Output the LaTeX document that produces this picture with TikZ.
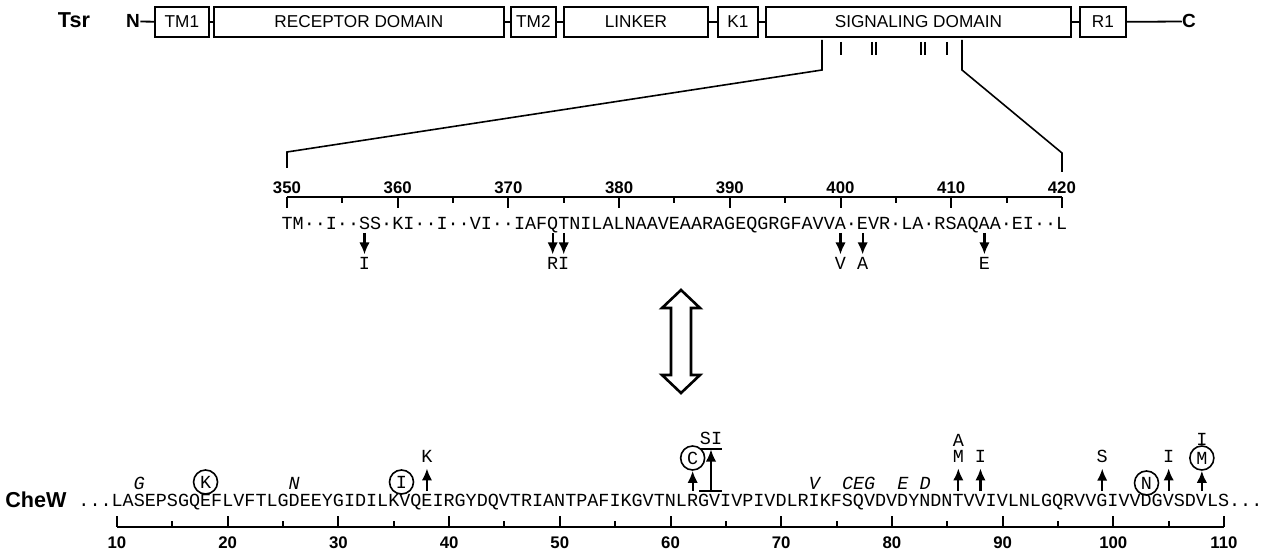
\documentclass[tikz,border=0pt]{standalone}
\usepackage{fontspec}
\setmainfont{Liberation Sans}
\newfontfamily\seqfont{Liberation Mono}
\usetikzlibrary{arrows.meta,positioning}

\begin{document}
\begin{tikzpicture}[x=0.5pt, y=-0.5pt,
  font=\fontsize{8.6}{10}\selectfont,
  dom/.style={draw, line width=0.9pt, minimum height=15pt, inner sep=0pt, anchor=west},
  term/.style={font=\fontsize{9.5}{11}\selectfont\bfseries, inner sep=0pt, anchor=base},
  prot/.style={font=\fontsize{10.8}{12}\selectfont\bfseries, inner sep=0pt, anchor=base},
  num/.style={font=\fontsize{8.4}{10}\selectfont\bfseries, inner sep=0pt, anchor=base},
  seq/.style={font=\seqfont\fontsize{9.22}{11}\selectfont, inner sep=0pt, anchor=base},
  alt/.style={seq, font=\seqfont\itshape\fontsize{9.22}{11}\selectfont},
  ring/.style={circle, draw, line width=0.8pt, minimum size=12pt, inner sep=0pt,
               font=\seqfont\fontsize{9.22}{11}\selectfont},
  mut/.style={line width=1.1pt, -{Latex[length=6pt,width=5.2pt]}},
  rule/.style={line width=1pt},
  link/.style={line width=0.9pt}
]
\useasboundingbox (0,0) rectangle (1264,550);

\node[prot] (tsr) at (74,28) {Tsr};
\node[term] (nt) at (133,28) {N};
\foreach \n/\a/\b/\t in {tm1/154/208/TM1, rec/213/503/RECEPTOR DOMAIN, tm2/510/555/TM2,
    lnk/563/707/LINKER, k1/717/757/K1, sig/765/1070/SIGNALING DOMAIN, r1/1079/1125/R1}
  \node[dom, minimum width={(\b-\a)*0.5pt}] (\n) at (\a,22) {\t};
\node[term] (ct) at (1189,28) {C};
\draw[link] (nt) -- (tm1);
\foreach \a/\b in {tm1/rec, rec/tm2, tm2/lnk, lnk/k1, k1/sig, sig/r1}
  \draw[link] (\a) -- (\b);
\draw[link] (r1) -- (ct);

\foreach \x in {841,872,876,921,925,947}
  \draw[line width=0.8pt] (\x,42) -- (\x,55);
\draw[line width=0.8pt] (822,40) -- (822,70) -- (287,152) -- (287,168);
\draw[line width=0.8pt] (962,40) -- (962,70) -- (1062,153) -- (1062,172);

\draw[rule] (287,197) -- (1062,197);
\foreach \r in {350,360,...,420} {
  \pgfmathsetmacro\x{287+(\r-350)*11.07}
  \draw[rule] (\x,197) -- (\x,208);
  \node[num] at (\x,194) {\r};
}
\foreach \r in {355,365,...,415} {
  \pgfmathsetmacro\x{287+(\r-350)*11.07}
  \draw[rule] (\x,197) -- (\x,203);
}
\node[seq] (tsrseq) at (674.5,230)
  {TM··I··SS·KI··I··VI··IAFQTNILALNAAVEAARAGEQGRGFAVVA·EVR·LA·RSAQAA·EI··L};
\foreach \r/\a in {357/I, 374/R, 375/I, 400/V, 402/A, 413/E} {
  \pgfmathsetmacro\x{287+(\r-350)*11.07}
  \coordinate (tsrm\r) at (\x,233);
  \node[seq] (tsrl\r) at (\x,270) {\a};
  \draw[mut, shorten >=1.5pt] (tsrm\r) -- (tsrl\r);
}

\draw[line width=1.3pt, line join=miter] (681,290) -- (700,308) -- (691,308) -- (691,375)
  -- (700,375) -- (681,393) -- (662,375) -- (671,375) -- (671,308) -- (662,308) -- cycle;

\node[prot] (chew) at (36,508) {CheW};
\node[seq] (chwseq) at (670.5,507)
  {...LASEPSGQEFLVFTLGDEEYGIDILKVQEIRGYDQVTRIANTPAFIKGVTNLRGVIVPIVDLRIKFSQVDVDYNDNTVVIVLNLGQRVVGIVVDGVSDVLS...};
\draw[rule] (117,527) -- (1224,527);
\foreach \r in {10,20,...,110} {
  \pgfmathsetmacro\x{117+(\r-10)*11.07}
  \draw[rule] (\x,527) -- (\x,516);
  \node[num] at (\x,548) {\r};
}
\foreach \r in {15,25,...,105} {
  \pgfmathsetmacro\x{117+(\r-10)*11.07}
  \draw[rule] (\x,527) -- (\x,521);
}
\foreach \r/\a in {12/G, 26/N, 73/V, 77/CEG, 81/E, 83/D} {
  \pgfmathsetmacro\x{117+(\r-10)*11.07}
  \node[alt] at (\x,489) {\a};
}
\foreach \r/\a in {38/K, 86/M, 88/I, 99/S, 105/I} {
  \pgfmathsetmacro\x{117+(\r-10)*11.07}
  \coordinate (chwm\r) at (\x,491);
  \node[seq] (chwl\r) at (\x,463) {\a};
  \draw[mut, shorten >=2.5pt] (chwm\r) -- (chwl\r);
}
\node[seq] (chwa86) at ({117+76*11.07},447) {A};

\node[ring] (rK) at ({117+8*11.07},482) {K};
\node[ring] (rI) at (401.5,482) {I};
\node[ring] (rN) at ({117+93*11.07},483) {N};
\node[ring] (rC) at ({117+52*11.07},458) {C};
\node[ring] (rM) at ({117+98*11.07},458) {M};
\node[seq] (chwi108) at ({117+98*11.07},446) {I};
\coordinate (chwm62) at ({117+52*11.07},491);
\coordinate (chwm108) at ({117+98*11.07},491);
\draw[mut] (chwm62) -- (rC);
\draw[mut] (chwm108) -- (rM);

\node[seq] (si) at (711,445) {SI};
\draw[line width=0.9pt] ([yshift=-1.6pt]si.south west) -- ([yshift=-1.6pt]si.south east);
\coordinate (gvl) at (699,491);
\coordinate (gvr) at (722,491);
\coordinate (gvm) at (711,491);
\draw[line width=0.9pt] (gvl) -- (gvr);
\draw[mut, line width=0.8pt, shorten >=2pt] (gvm) -- (si.south);
\end{tikzpicture}
\end{document}
